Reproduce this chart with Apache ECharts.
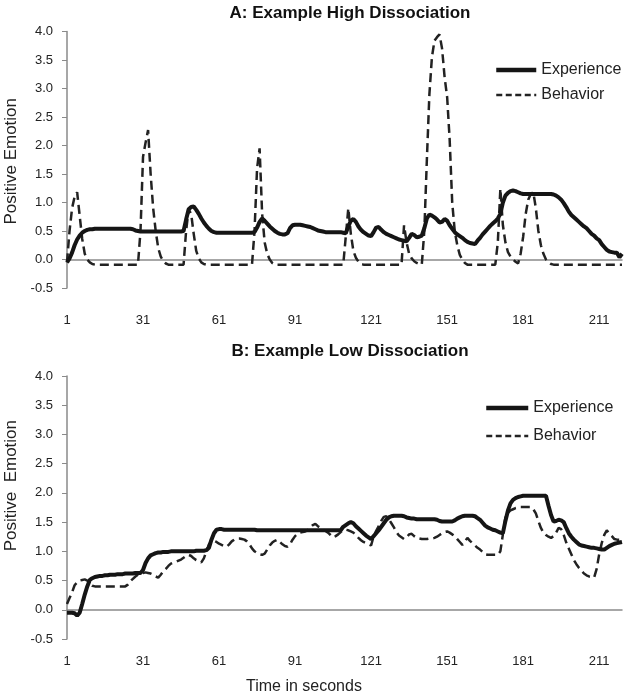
<!DOCTYPE html>
<html><head><meta charset="utf-8">
<script src="https://cdn.jsdelivr.net/npm/echarts@6/dist/echarts.min.js"></script>
<style>html,body{margin:0;padding:0;background:#fff}#c{width:628px;height:696px}</style>
</head><body><div id="c"></div>
<script>
// time in seconds (category axis 1..220)
const seconds = [];
for (let s = 1; s <= 220; s++) seconds.push(String(s));
const yTicks = ['-0.5','0.0','0.5','1.0','1.5','2.0','2.5','3.0','3.5','4.0'];

// Panel A: Example High Dissociation
const expA = [
-0.05,0.02,0.12,0.25,0.35,0.42,0.47,0.5,0.52,0.53,
0.53,0.54,0.54,0.54,0.54,0.54,0.54,0.54,0.54,0.54,
0.54,0.54,0.54,0.54,0.54,0.54,0.53,0.51,0.5,0.49,
0.49,0.49,0.49,0.49,0.49,0.49,0.49,0.49,0.49,0.49,
0.49,0.49,0.49,0.49,0.49,0.49,0.5,0.7,0.88,0.92,
0.93,0.87,0.8,0.72,0.65,0.59,0.54,0.5,0.48,0.47,
0.47,0.47,0.47,0.47,0.47,0.47,0.47,0.47,0.47,0.47,
0.47,0.47,0.47,0.47,0.48,0.56,0.66,0.72,0.68,0.63,
0.58,0.54,0.5,0.47,0.45,0.44,0.44,0.46,0.55,0.6,
0.61,0.61,0.61,0.6,0.59,0.58,0.57,0.55,0.53,0.51,
0.5,0.49,0.48,0.48,0.48,0.48,0.48,0.48,0.48,0.47,
0.46,0.58,0.68,0.71,0.66,0.58,0.52,0.48,0.45,0.42,
0.41,0.48,0.56,0.57,0.52,0.48,0.45,0.43,0.41,0.39,
0.37,0.35,0.34,0.33,0.32,0.38,0.45,0.43,0.39,0.4,
0.42,0.55,0.72,0.79,0.77,0.74,0.7,0.65,0.66,0.71,
0.68,0.6,0.54,0.48,0.44,0.41,0.38,0.34,0.31,0.29,
0.28,0.27,0.33,0.38,0.44,0.49,0.54,0.59,0.63,0.67,
0.72,0.8,1.0,1.12,1.17,1.2,1.21,1.2,1.18,1.16,
1.15,1.15,1.15,1.15,1.15,1.15,1.15,1.15,1.15,1.15,
1.15,1.15,1.14,1.12,1.09,1.05,0.99,0.92,0.84,0.78,
0.74,0.7,0.66,0.62,0.58,0.55,0.5,0.45,0.42,0.37,
0.34,0.27,0.22,0.17,0.14,0.13,0.12,0.12,0.04,0.1
];
const behA = [
-0.05,0.5,0.9,1.1,1.18,0.77,0.36,0.1,0.0,-0.05,
-0.08,-0.09,-0.09,-0.09,-0.09,-0.09,-0.09,-0.09,-0.09,-0.09,
-0.09,-0.09,-0.09,-0.09,-0.09,-0.09,-0.09,-0.09,-0.09,0.5,
1.8,2.05,2.27,1.5,0.9,0.5,0.2,0.05,-0.03,-0.07,
-0.09,-0.09,-0.09,-0.09,-0.09,-0.09,-0.09,0.5,0.88,0.8,
0.45,0.15,0.02,-0.05,-0.08,-0.09,-0.09,-0.09,-0.09,-0.09,
-0.09,-0.09,-0.09,-0.09,-0.09,-0.09,-0.09,-0.09,-0.09,-0.09,
-0.09,-0.09,-0.09,-0.09,0.5,1.6,1.95,0.8,0.3,0.1,
0.0,-0.06,-0.09,-0.09,-0.09,-0.09,-0.09,-0.09,-0.09,-0.09,
-0.09,-0.09,-0.09,-0.09,-0.09,-0.09,-0.09,-0.09,-0.09,-0.09,
-0.09,-0.09,-0.09,-0.09,-0.09,-0.09,-0.09,-0.09,-0.09,-0.09,
0.4,0.9,0.45,0.15,0.03,-0.04,-0.08,-0.09,-0.09,-0.09,
-0.09,-0.09,-0.09,-0.09,-0.09,-0.09,-0.09,-0.09,-0.09,-0.09,
-0.09,-0.09,-0.09,0.6,0.3,0.1,0.02,-0.03,-0.06,-0.08,
-0.09,0.5,1.75,2.9,3.55,3.84,3.9,3.95,3.7,3.2,
2.85,2.1,1.0,0.5,0.25,0.08,0.0,-0.06,-0.09,-0.09,
-0.09,-0.09,-0.09,-0.09,-0.09,-0.09,-0.09,-0.09,-0.09,-0.09,
0.3,1.24,0.6,0.3,0.13,0.05,0.0,-0.04,-0.07,0.1,
0.4,0.8,1.05,1.15,1.18,0.9,0.5,0.25,0.1,0.0,
-0.05,-0.08,-0.09,-0.09,-0.09,-0.09,-0.09,-0.09,-0.09,-0.09,
-0.09,-0.09,-0.09,-0.09,-0.09,-0.09,-0.09,-0.09,-0.09,-0.09,
-0.09,-0.09,-0.09,-0.09,-0.09,-0.09,-0.09,-0.09,-0.09,-0.09
];

// Panel B: Example Low Dissociation
const expB = [
-0.05,-0.05,-0.05,-0.06,-0.1,-0.05,0.1,0.26,0.4,0.51,
0.54,0.56,0.57,0.58,0.58,0.59,0.59,0.6,0.6,0.6,
0.61,0.61,0.61,0.62,0.62,0.62,0.62,0.63,0.63,0.63,
0.68,0.8,0.88,0.93,0.95,0.97,0.98,0.98,0.99,0.99,
0.99,1.0,1.0,1.0,1.0,1.0,1.0,1.0,1.0,1.0,
1.0,1.01,1.01,1.01,1.01,1.02,1.06,1.2,1.31,1.37,
1.38,1.38,1.37,1.37,1.37,1.37,1.37,1.37,1.37,1.37,
1.37,1.37,1.37,1.37,1.37,1.36,1.36,1.36,1.36,1.36,
1.36,1.36,1.36,1.36,1.36,1.36,1.36,1.36,1.36,1.36,
1.36,1.36,1.36,1.36,1.36,1.36,1.36,1.36,1.36,1.36,
1.36,1.36,1.36,1.36,1.36,1.36,1.36,1.36,1.36,1.42,
1.45,1.48,1.5,1.48,1.43,1.39,1.35,1.31,1.27,1.24,
1.21,1.26,1.31,1.36,1.42,1.48,1.54,1.58,1.6,1.61,
1.61,1.61,1.61,1.6,1.58,1.57,1.56,1.56,1.55,1.55,
1.55,1.55,1.55,1.55,1.55,1.55,1.54,1.52,1.51,1.51,
1.51,1.51,1.51,1.53,1.56,1.58,1.6,1.61,1.61,1.61,
1.61,1.6,1.57,1.54,1.49,1.44,1.41,1.39,1.37,1.36,
1.34,1.32,1.31,1.52,1.7,1.82,1.88,1.91,1.93,1.94,
1.95,1.95,1.95,1.95,1.95,1.95,1.95,1.95,1.95,1.95,
1.78,1.62,1.51,1.52,1.54,1.53,1.5,1.4,1.31,1.25,
1.2,1.16,1.12,1.1,1.09,1.08,1.07,1.06,1.06,1.05,
1.04,1.03,1.03,1.06,1.09,1.11,1.13,1.14,1.15,1.16
];
const behB = [
0.1,0.2,0.3,0.42,0.47,0.5,0.51,0.52,0.5,0.45,
0.41,0.4,0.4,0.4,0.4,0.4,0.4,0.4,0.4,0.4,
0.4,0.4,0.4,0.4,0.43,0.49,0.53,0.57,0.6,0.62,
0.63,0.64,0.63,0.62,0.6,0.57,0.55,0.6,0.66,0.7,
0.75,0.79,0.81,0.82,0.84,0.86,0.89,0.92,0.94,0.92,
0.88,0.85,0.83,0.81,0.88,1.0,1.12,1.17,1.18,1.16,
1.13,1.11,1.09,1.08,1.12,1.17,1.2,1.22,1.22,1.21,
1.2,1.17,1.12,1.05,1.0,0.97,0.95,0.94,0.96,1.03,
1.1,1.15,1.18,1.2,1.16,1.12,1.09,1.08,1.12,1.2,
1.26,1.3,1.32,1.33,1.34,1.36,1.41,1.45,1.47,1.43,
1.4,1.37,1.35,1.32,1.28,1.24,1.26,1.29,1.33,1.36,
1.37,1.36,1.34,1.32,1.28,1.23,1.19,1.16,1.14,1.12,
1.1,1.26,1.35,1.43,1.52,1.59,1.6,1.55,1.48,1.41,
1.33,1.27,1.24,1.21,1.24,1.29,1.3,1.26,1.23,1.22,
1.21,1.21,1.21,1.22,1.22,1.23,1.25,1.28,1.31,1.33,
1.34,1.32,1.29,1.26,1.21,1.16,1.11,1.17,1.23,1.18,
1.14,1.1,1.06,1.03,0.99,0.95,0.94,0.94,0.94,0.94,
0.94,1.0,1.29,1.58,1.66,1.7,1.72,1.74,1.75,1.76,
1.76,1.76,1.76,1.76,1.72,1.65,1.52,1.4,1.32,1.28,
1.25,1.23,1.26,1.32,1.4,1.38,1.28,1.15,1.05,0.95,
0.85,0.78,0.72,0.67,0.62,0.59,0.57,0.56,0.55,0.7,
0.95,1.14,1.28,1.36,1.3,1.26,1.21,1.2,1.2,1.2
];

const FONT = '"Liberation Sans", Arial, sans-serif';
const axisColor = '#8a8a8a';
const textColor = '#222';

function xAxisCfg(gi, margin) {
  return {
    type: 'category', gridIndex: gi, data: seconds, boundaryGap: false,
    axisLine: { show: true, lineStyle: { color: axisColor, width: 1.5 } },
    axisTick: { show: false },
    axisLabel: { interval: 29, color: textColor, fontFamily: FONT, fontSize: 13, margin: margin },
    splitLine: { show: false }
  };
}
function yAxisCfg(gi) {
  return {
    type: 'value', gridIndex: gi, min: -0.5, max: 4, interval: 0.5,
    axisLine: { show: true, lineStyle: { color: axisColor, width: 1.5 } },
    axisTick: { show: true, length: 5, lineStyle: { color: axisColor } },
    axisLabel: { color: textColor, fontFamily: FONT, fontSize: 13, margin: 14,
      formatter: v => yTicks[Math.round((v + 0.5) / 0.5)] },
    splitLine: { show: false }
  };
}
const expStyle = { color: '#151515', width: 4 };
const behStyle = { color: '#222', width: 2.5, type: [9, 5] };
const legendNames = [
  { name: 'Experience', itemStyle: { opacity: 0 }, lineStyle: { width: 4.5, color: '#151515' } },
  { name: 'Behavior', itemStyle: { opacity: 0 }, lineStyle: { width: 2.5, color: '#222', type: [6, 3.5] } }
];

const chart = echarts.init(document.getElementById('c'), null, { renderer: 'canvas' });
chart.setOption({
  backgroundColor: '#fff',
  animation: false,
  title: [
    { text: 'A: Example High Dissociation', left: 345, top: 0, textAlign: 'center',
      textStyle: { fontFamily: FONT, fontWeight: 'bold', fontSize: 17, color: '#111' } },
    { text: 'B: Example Low Dissociation', left: 345, top: 338, textAlign: 'center',
      textStyle: { fontFamily: FONT, fontWeight: 'bold', fontSize: 17, color: '#111' } }
  ],
  legend: [
    { orient: 'vertical', left: 489, top: 57, itemWidth: 40, itemHeight: 14, itemGap: 9,
      data: legendNames, itemStyle: { opacity: 0 },
      textStyle: { fontFamily: FONT, fontSize: 16, color: textColor } },
    { orient: 'vertical', left: 479, top: 395, itemWidth: 42, itemHeight: 14, itemGap: 12,
      data: legendNames, itemStyle: { opacity: 0 },
      textStyle: { fontFamily: FONT, fontSize: 16, color: textColor } }
  ],
  grid: [
    { left: 67, right: 6, top: 31.5, height: 256.5 },
    { left: 67, right: 6, top: 376, height: 263 }
  ],
  xAxis: [xAxisCfg(0, 26), xAxisCfg(1, 16)],
  yAxis: [yAxisCfg(0), yAxisCfg(1)],
  graphic: [
    { type: 'text', left: 3, top: 98, rotation: Math.PI / 2,
      style: { text: 'Positive Emotion', fontFamily: FONT, fontSize: 17, fill: textColor } },
    { type: 'text', left: 3, top: 420, rotation: Math.PI / 2,
      style: { text: 'Positive  Emotion', fontFamily: FONT, fontSize: 17, fill: textColor } },
    { type: 'text', left: 246, top: 679,
      style: { text: 'Time in seconds', fontFamily: FONT, fontSize: 16, fill: textColor } }
  ],
  series: [
    { name: 'Experience', type: 'line', xAxisIndex: 0, yAxisIndex: 0, data: expA,
      showSymbol: false, symbol: 'none', lineStyle: expStyle, itemStyle: { color: expStyle.color }, z: 3 },
    { name: 'Behavior', type: 'line', xAxisIndex: 0, yAxisIndex: 0, data: behA,
      showSymbol: false, symbol: 'none', lineStyle: behStyle, itemStyle: { color: behStyle.color }, z: 2 },
    { name: 'Experience', type: 'line', xAxisIndex: 1, yAxisIndex: 1, data: expB,
      showSymbol: false, symbol: 'none', lineStyle: expStyle, itemStyle: { color: expStyle.color }, z: 3 },
    { name: 'Behavior', type: 'line', xAxisIndex: 1, yAxisIndex: 1, data: behB,
      showSymbol: false, symbol: 'none', lineStyle: behStyle, itemStyle: { color: behStyle.color }, z: 2 }
  ]
});
</script></body></html>
